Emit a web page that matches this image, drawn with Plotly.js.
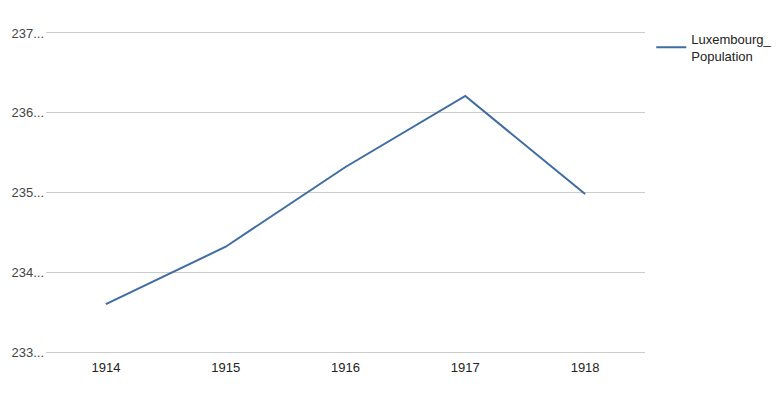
<!DOCTYPE html>
<html>
<head>
<meta charset="utf-8">
<script src="https://cdn.plot.ly/plotly-3.0.1.min.js"></script>
<style>html,body{margin:0;padding:0;background:#fff;}#chart{width:777px;height:395px;}</style>
</head>
<body>
<div id="chart"></div>
<script>
const years = ["1914", "1915", "1916", "1917", "1918"];
const population = [233.60, 234.32, 235.32, 236.21, 234.98];
const yTickVals = [233, 234, 235, 236, 237];
const yTickText = ["233...", "234...", "235...", "236...", "237..."];
const seriesName = "Luxembourg_<br>Population";

Plotly.newPlot("chart", [{
  x: years,
  y: population,
  type: "scatter",
  mode: "lines",
  name: seriesName,
  line: {color: "#3f6ca3", width: 2}
}], {
  width: 777, height: 395,
  margin: {l: 46, r: 132, t: 31, b: 41, autoexpand: false},
  paper_bgcolor: "#fff", plot_bgcolor: "#fff",
  font: {family: "Liberation Sans, Arial, sans-serif", size: 13, color: "#444"},
  xaxis: {
    type: "category", range: [-0.5, 4.5], showgrid: false, zeroline: false,
    showline: false, ticks: "", ticklabelstandoff: 4, tickfont: {size: 13, color: "#222"}
  },
  yaxis: {
    range: [232.975, 237.025], tickvals: yTickVals, ticktext: yTickText,
    showgrid: true, gridcolor: "#cccccc", gridwidth: 1, zeroline: false,
    showline: false, ticks: "", ticklabelstandoff: 1, tickfont: {size: 13, color: "#444"}
  },
  showlegend: true,
  legend: {x: 1.0105, y: 1.0224, xanchor: "left", yanchor: "top",
    font: {size: 13, color: "#222"}, bgcolor: "rgba(0,0,0,0)", tracegroupgap: 0}
}, {displayModeBar: false, staticPlot: true});
</script>
</body>
</html>
